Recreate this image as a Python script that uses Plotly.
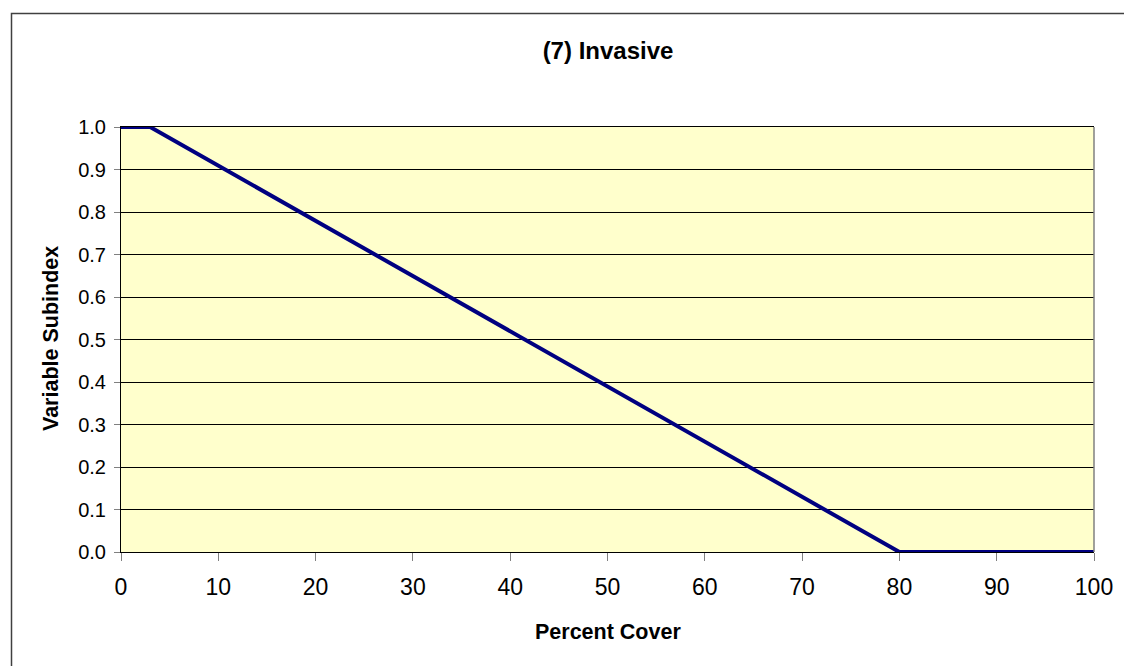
import plotly.graph_objects as go

# Data
percent_cover = [0, 3, 80, 100]
subindex = [1.0, 1.0, 0.0, 0.0]
x_ticks = [0, 10, 20, 30, 40, 50, 60, 70, 80, 90, 100]
y_ticks = [0.0, 0.1, 0.2, 0.3, 0.4, 0.5, 0.6, 0.7, 0.8, 0.9, 1.0]
title_text = "(7) Invasive"
x_title = "Percent Cover"
y_title = "Variable Subindex"

W, H = 1132, 666
L, R, T, B = 113, 1086, 119, 544
FONT = "Arial, Liberation Sans, sans-serif"

fig = go.Figure()
fig.add_trace(go.Scatter(
    x=percent_cover, y=subindex, mode="lines",
    line=dict(color="#000080", width=4),
    cliponaxis=False, showlegend=False, hoverinfo="x+y",
))

pw = R - L
ph = B - T

def px_to_paper_x(px):
    return (px - L) / pw

def px_to_paper_y(py):
    return (B - py) / ph

fig.update_layout(
    width=W, height=H,
    margin=dict(l=L, r=W - R, t=T, b=H - B, pad=0),
    paper_bgcolor="white",
    plot_bgcolor="#FFFFCC",
    font=dict(family=FONT, color="black"),
    title=dict(text="<b>" + title_text + "</b>", x=px_to_paper_x(600), xref="paper",
               xanchor="center", y=1 - 43 / H, yref="container", yanchor="middle",
               font=dict(size=24, family=FONT, color="black")),
    xaxis=dict(
        range=[0, 100], tickvals=x_ticks, ticktext=[str(v) for v in x_ticks],
        ticks="outside", ticklen=8, tickwidth=1, tickcolor="#808080",
        showgrid=False, zeroline=False,
        showline=True, linecolor="black", linewidth=1, mirror=True,
        tickfont=dict(size=23, family=FONT, color="black"),
        ticklabelstandoff=6,
        fixedrange=True,
    ),
    yaxis=dict(
        range=[0, 1], tickvals=y_ticks, ticktext=["%.1f" % v for v in y_ticks],
        ticks="outside", ticklen=6, tickwidth=1, tickcolor="#808080",
        showgrid=True, gridcolor="black", gridwidth=1, zeroline=False,
        showline=True, linecolor="black", linewidth=1,
        tickfont=dict(size=20, family=FONT, color="black"),
        ticklabelstandoff=4,
        fixedrange=True,
    ),
    shapes=[
        # right border of plot area (gray)
        dict(type="line", xref="paper", yref="paper", x0=1, x1=1, y0=0, y1=1,
             line=dict(color="#808080", width=1.5)),
        # outer chart border
        dict(type="rect", xref="paper", yref="paper",
             x0=px_to_paper_x(3.5), x1=px_to_paper_x(1130.5),
             y0=px_to_paper_y(663.5), y1=px_to_paper_y(5.5),
             line=dict(color="#404040", width=1.5), fillcolor="rgba(0,0,0,0)"),
    ],
    annotations=[
        dict(text="<b>" + x_title + "</b>", xref="paper", yref="paper",
             x=px_to_paper_x(600), y=px_to_paper_y(624), xanchor="center", yanchor="middle",
             showarrow=False, font=dict(size=21.5, family=FONT, color="black")),
        dict(text="<b>" + y_title + "</b>", xref="paper", yref="paper",
             x=px_to_paper_x(43), y=px_to_paper_y(331), xanchor="center", yanchor="middle",
             textangle=-90, showarrow=False, font=dict(size=21.5, family=FONT, color="black")),
    ],
)

fig.write_html("out.html")
